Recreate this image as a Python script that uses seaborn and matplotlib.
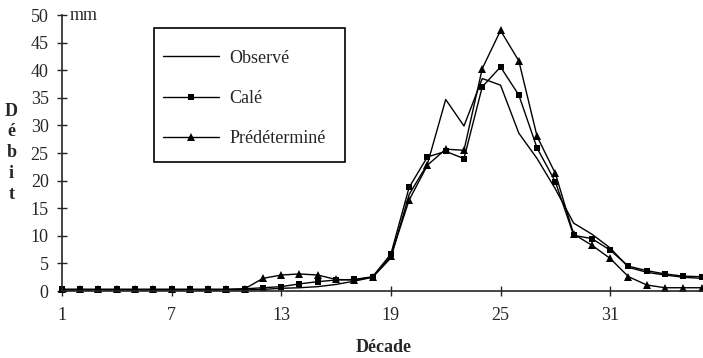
import matplotlib
matplotlib.use("Agg")
import matplotlib.pyplot as plt
import seaborn as sns
import pandas as pd
from matplotlib.patches import Rectangle

decade = list(range(1, 37))

observe = [0.2, 0.2, 0.2, 0.2, 0.2, 0.2, 0.2, 0.2, 0.2, 0.2, 0.2,
           0.3, 0.5, 0.6, 0.8, 1.2, 1.8, 2.5, 6.0, 17.5, 23.0, 34.7,
           29.9, 38.5, 37.3, 28.6, 24.0, 18.5, 12.3, 10.3, 7.8, 4.3,
           3.4, 2.9, 2.5, 2.3]
cale = [0.3, 0.3, 0.3, 0.3, 0.3, 0.3, 0.3, 0.3, 0.3, 0.3, 0.4,
        0.6, 0.8, 1.3, 1.7, 2.0, 2.1, 2.6, 6.7, 18.8, 24.3, 25.3,
        24.0, 37.0, 40.6, 35.5, 25.9, 19.8, 10.1, 9.5, 7.4, 4.5,
        3.7, 3.1, 2.7, 2.6]
predet = [0.3, 0.3, 0.3, 0.3, 0.3, 0.3, 0.3, 0.3, 0.3, 0.3, 0.4,
          2.3, 2.9, 3.1, 2.9, 2.1, 2.0, 2.5, 6.3, 16.5, 22.8, 25.7,
          25.5, 40.3, 47.2, 41.7, 28.0, 21.3, 10.3, 8.3, 5.9, 2.6,
          1.1, 0.6, 0.6, 0.6]

df = pd.DataFrame({"Décade": decade, "Observé": observe,
                   "Calé": cale, "Prédéterminé": predet})

sns.set_style("ticks")
plt.rcParams["font.family"] = ["Liberation Serif", "DejaVu Serif"]

fig = plt.figure(figsize=(7.03, 3.58), dpi=100)
ax = fig.add_axes([0.088, 0.187, 0.910, 0.771])

sns.lineplot(data=df, x="Décade", y="Observé", ax=ax, color="black",
             lw=1.0, label="Observé", clip_on=False)
sns.lineplot(data=df, x="Décade", y="Calé", ax=ax, color="black",
             lw=1.0, marker="s", markersize=5, markeredgewidth=0,
             label="Calé", clip_on=False)
sns.lineplot(data=df, x="Décade", y="Prédéterminé", ax=ax, color="black",
             lw=1.0, marker="^", markersize=5.5, markeredgewidth=0,
             label="Prédéterminé", clip_on=False)

ax.set_xlim(1, 36)
ax.set_ylim(0, 50)
ax.set_xticks([1, 7, 13, 19, 25, 31])
ax.set_yticks(range(0, 51, 5))
ax.tick_params(direction="inout", length=7, width=1, labelsize=13)
ax.tick_params(axis="x", pad=8)
ax.tick_params(axis="y", pad=6)
for s in ["top", "right"]:
    ax.spines[s].set_visible(False)
for s in ["left", "bottom"]:
    ax.spines[s].set_linewidth(1.2)

ax.set_xlabel("")
ax.set_ylabel("")
fig.text(0.546, 0.028, "Décade", fontweight="bold", fontsize=13,
         ha="center", va="center")
fig.text(0.016, 0.573, "D\né\nb\ni\nt", fontweight="bold", fontsize=13,
         ha="center", va="center", linespacing=1.3)
ax.text(0.012, 1.0, "mm", transform=ax.transAxes, fontsize=13,
        ha="left", va="center")

# legend frame drawn separately (the original box is taller than its content)
ax.add_patch(Rectangle((0.144, 0.467), 0.298, 0.486, transform=ax.transAxes,
                       fill=False, edgecolor="black", lw=1.2, zorder=5))
ax.legend(loc="upper left", bbox_to_anchor=(0.158, 0.875),
          frameon=False, fontsize=13, handlelength=3.1, handletextpad=0.6,
          labelspacing=1.3, borderpad=0, borderaxespad=0)

fig.savefig("out.png", dpi=100)
